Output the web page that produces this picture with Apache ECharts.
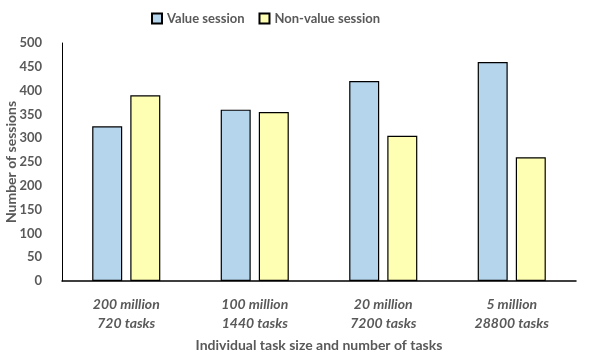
<!DOCTYPE html>
<html lang="en">
<head>
    <meta charset="UTF-8"/>
    <title>sessions</title>
    <script src="https://cdn.jsdelivr.net/npm/echarts@6/dist/echarts.min.js"></script>
</head>
<body style="margin:0">
<div id="main" style="width:597px;height:359px;"></div>

<script type="text/javascript">
    var categories = ['200 million\n720 tasks', '100 million\n1440 tasks', '20 million\n7200 tasks', '5 million\n28800 tasks'];
    var valueSession = [325, 360, 420, 460];
    var nonValueSession = [390, 355, 305, 260];

    var txt = '#595959';
    var font = 'Lato';

    var myChart = echarts.init(document.getElementById('main'));
    var option = {
        animation: false,
        textStyle: { fontFamily: font },
        legend: {
            top: 7,
            left: 146,
            icon: 'rect',
            itemWidth: 10,
            itemHeight: 10,
            itemGap: 14,
            textStyle: { color: txt, fontSize: 13, fontWeight: 'bold', fontFamily: font },
            data: ['Value session', 'Non-value session']
        },
        grid: { left: 62, right: 21, top: 43, bottom: 78, outerBoundsMode: 'none' },
        xAxis: {
            type: 'category',
            data: categories,
            name: 'Individual task size and number of tasks',
            nameLocation: 'middle',
            nameGap: 57,
            nameMoveOverlap: false,
            nameTextStyle: { color: txt, fontSize: 14, fontWeight: 'bold', fontFamily: font },
            axisLine: { lineStyle: { color: '#000', width: 1.5 } },
            axisTick: { show: false },
            axisLabel: {
                color: txt, fontSize: 14, fontWeight: 'bold', fontStyle: 'italic',
                fontFamily: font, margin: 14, lineHeight: 19
            }
        },
        yAxis: {
            type: 'value',
            min: 0,
            max: 500,
            interval: 50,
            name: 'Number of sessions',
            nameLocation: 'middle',
            nameGap: 44,
            nameMoveOverlap: false,
            nameTextStyle: { color: txt, fontSize: 14, fontWeight: 'bold', fontFamily: font },
            axisLine: { show: true, lineStyle: { color: '#000', width: 1 } },
            axisTick: { show: false },
            splitLine: { show: false },
            axisLabel: { color: txt, fontSize: 13, fontWeight: 'bold', fontFamily: font, margin: 20 }
        },
        series: [
            {
                name: 'Value session',
                type: 'bar',
                data: valueSession,
                barWidth: 30,
                barGap: '27%',
                itemStyle: { color: '#b4d5ec', borderColor: '#000', borderWidth: 1.2 }
            },
            {
                name: 'Non-value session',
                type: 'bar',
                data: nonValueSession,
                barWidth: 30,
                itemStyle: { color: '#ffffb3', borderColor: '#000', borderWidth: 1.2 }
            }
        ]
    };
    myChart.setOption(option);
</script>
</body>
</html>
